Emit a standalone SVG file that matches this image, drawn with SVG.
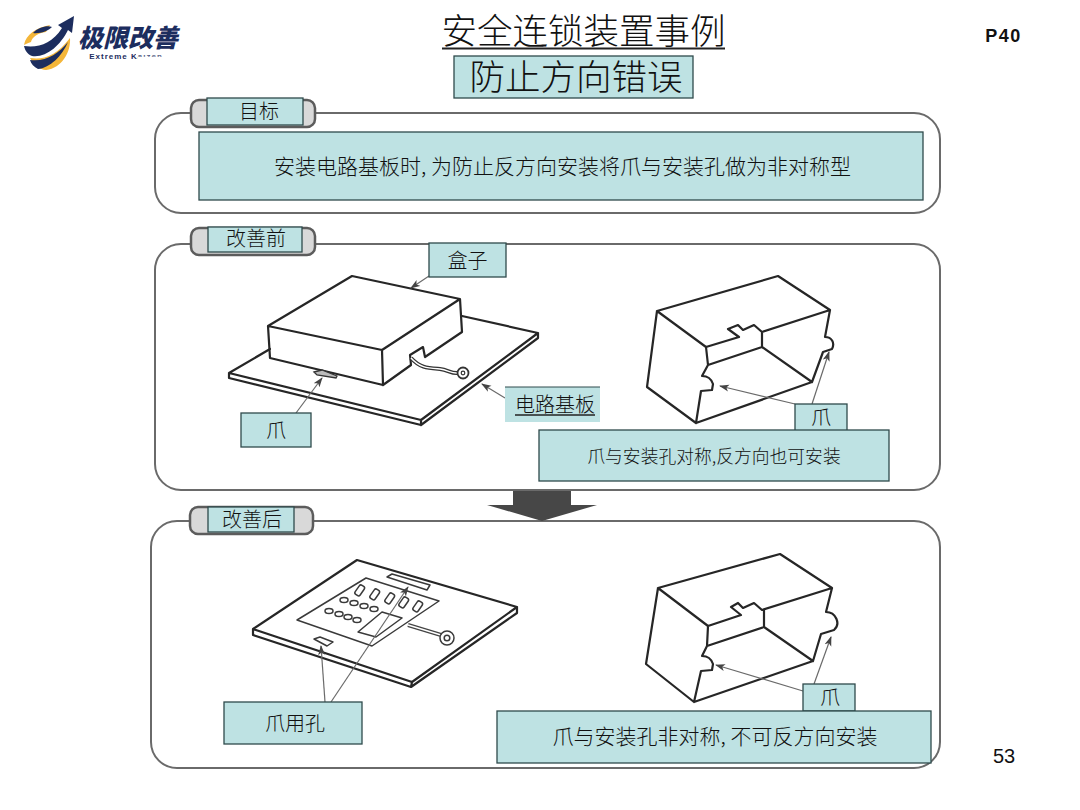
<svg xmlns="http://www.w3.org/2000/svg" width="1080" height="810" viewBox="0 0 1080 810">
<style>
text{font-family:"Noto Sans CJK SC","Liberation Sans",sans-serif;fill:#111;text-anchor:middle}
.panel{fill:#fff;stroke:#6a6a6a;stroke-width:2}
.pill{fill:#d9d9d9;stroke:#5c5c5c;stroke-width:2.500}
.teal{fill:#bee2e3;stroke:#2f4a4c;stroke-width:1.300}
.line{fill:none;stroke:#262626;stroke-width:2.200;stroke-linejoin:round;stroke-linecap:round}
.thin{fill:none;stroke:#3a3a3a;stroke-width:1.500;stroke-linejoin:round}
.lead{fill:none;stroke:#6a6a6a;stroke-width:1.200;marker-end:url(#arr)}
.title{font-size:35.500px;font-weight:300}
.t20{font-size:20px;font-weight:300}
</style>
<defs>
<marker id="arr" markerWidth="10" markerHeight="8" refX="9" refY="4" orient="auto" markerUnits="userSpaceOnUse"><path d="M0,0.5L10,4L0,7.5L2.5,4Z" fill="#444"/></marker>
</defs>
<rect width="1080" height="810" fill="#fff"/>

<g id="logo">
<path d="M24,45C26,34 36,28 50,25L46,32C38,33 32,37 31,42C28,43 26,44 24,45Z" fill="#f4b63a"/>
<path d="M30,58C44,60 56,56 70,38C71,52 62,68 46,70C40,70 34,65 30,58Z" fill="#f4b63a"/>
<path d="M24,46C38,48 52,44 62,28L58,25L74,16L72,33L68,30C60,46 46,58 32,56C27,54 25,50 24,46Z" fill="#1c2d5e"/>
<path d="M33,33C38,27 48,25 52,27C48,31 40,34 33,33Z" fill="#1c2d5e"/>
<path d="M30,60C46,62 58,54 68,42C62,56 50,68 38,69C34,67 31,64 30,60Z" fill="#1c2d5e"/>
<text x="128" y="47" style="font-size:25px;font-weight:900;fill:#1c2d5e;font-style:italic">极限改善</text>
<text x="126" y="59" style="font-size:8px;font-weight:700;fill:#1c2d5e;font-family:'Liberation Sans',sans-serif;letter-spacing:1px">Extreme Kaizen</text>
<rect x="136" y="52" width="36" height="3.200" fill="#fff"/>
<rect x="138" y="56.600" width="36" height="4" fill="#fff"/>
</g>

<g id="header">
<text class="title" x="583.500" y="44">安全连锁装置事例</text>
<line x1="442" y1="48.500" x2="725" y2="48.500" stroke="#222" stroke-width="2"/>
<rect class="teal" x="454" y="56" width="239" height="42"/>
<text class="title" x="576" y="90">防止方向错误</text>
<text x="1003.500" y="42" style="font-family:'Liberation Sans',sans-serif;font-size:18px;font-weight:700;letter-spacing:1.500px">P40</text>
<text x="1004" y="763" style="font-family:'Liberation Sans',sans-serif;font-size:20px">53</text>
</g>

<g id="panel-goal">
<rect class="panel" x="155" y="113" width="785" height="100" rx="26"/>
<rect class="pill" x="191" y="100" width="124" height="27" rx="8"/>
<rect class="teal" x="207" y="98" width="96" height="27"/>
<text class="t20" x="259" y="119">目标</text>
<rect class="teal" x="199" y="132" width="724" height="68"/>
<text class="t20" x="562.500" y="174" style="font-size:21px">安装电路基板时, 为防止反方向安装将爪与安装孔做为非对称型</text>
</g>

<g id="panel-before">
<rect class="panel" x="155" y="244" width="785" height="246" rx="26"/>
<rect class="pill" x="191" y="228" width="124" height="27" rx="8"/>
<rect class="teal" x="208" y="227" width="94" height="25"/>
<text class="t20" x="256" y="246">改善前</text>
</g>

<g id="panel-after">
<rect class="panel" x="151" y="521" width="789" height="247" rx="26"/>
<rect class="pill" x="190" y="507" width="123" height="27" rx="8"/>
<rect class="teal" x="208" y="507" width="86" height="25"/>
<text class="t20" x="252" y="527">改善后</text>
</g>

<g id="arrow-down">
<path d="M513,491H571V505H597L542,521L487,505H513Z" fill="#474747"/>
</g>

<g id="board-before">
<path class="line" d="M270,349L229,373L421,420L538,333L462,316M229,373V378L421,425V420M421,425L538,338V333"/>
</g>
<g id="box-before">
<path class="line" d="M268,326L352,276L460,299L382,350ZM268,326L270,358L383,385L382,350M460,299L462,332L425,357L423,347L410,355L411,365L383,385"/>
<path d="M411,358C420,368 428,368 440,369C448,370 452,374 458,373" fill="none" stroke="#333" stroke-width="4"/>
<path d="M411,358C420,368 428,368 440,369C448,370 452,374 458,373" fill="none" stroke="#fff" stroke-width="1.500"/>
<circle cx="463" cy="373" r="5.500" fill="#fff" stroke="#333" stroke-width="1.800"/>
<circle cx="463" cy="373" r="1.800" fill="#fff" stroke="#333" stroke-width="1.200"/>
<path d="M314,372L322,370L337,376L336,378L317,375Z" fill="#bbb" stroke="#333" stroke-width="1.300"/>
</g>

<g id="case-before">
<path class="line" d="M657,311L778,276L830,310L762,332L754,325L743,330L738,325L728,329L739,337L706,347ZM657,311L647,387L696,423L701,391L712,390L713,384C711,378 708,376 702,376L708,365L706,347M696,423L812,382L823,352L832,349C835,343 832,337 825,337L830,310M762,332V347L812,382M762,347L708,365"/>
</g>

<g id="board-after">
<path class="line" d="M253,629L357,560L517,607L412,682ZM253,629V635L411,687L517,613V607M412,682L411,687"/>
<path class="thin" d="M297,620L366,578L439,601L372,646ZM358,632L382,612L402,618L376,637Z"/>
<path d="M408,625L441,635" fill="none" stroke="#444" stroke-width="4"/>
<path d="M408,625L441,635" fill="none" stroke="#fff" stroke-width="1.500"/>
<path class="thin" d="M387,577L392,574L430,585L427,590Z M314,639L320,637L333,642L327,646Z"/>
<g class="thin">
<rect x="357" y="585" width="6" height="11" rx="2" transform="rotate(35 360 590)"/>
<rect x="372" y="589" width="6" height="11" rx="2" transform="rotate(35 375 594)"/>
<rect x="387" y="593" width="6" height="11" rx="2" transform="rotate(35 390 598)"/>
<rect x="401" y="597" width="6" height="11" rx="2" transform="rotate(35 404 602)"/>
<rect x="415" y="601" width="6" height="11" rx="2" transform="rotate(35 418 606)"/>
<ellipse cx="344" cy="600" rx="4" ry="2.500"/><ellipse cx="354" cy="603" rx="4" ry="2.500"/><ellipse cx="364" cy="606" rx="4" ry="2.500"/><ellipse cx="374" cy="609" rx="4" ry="2.500"/>
<ellipse cx="329" cy="611" rx="4" ry="2.500"/><ellipse cx="339" cy="614" rx="4" ry="2.500"/><ellipse cx="348" cy="617" rx="4" ry="2.500"/><ellipse cx="357" cy="620" rx="4" ry="2.500"/>
<circle cx="447" cy="638" r="7" fill="#fff"/><circle cx="447" cy="638" r="2.800"/>
</g>
</g>

<g id="case-after">
<path class="line" d="M658,588L780,554L832,588L762,610L754,603L743,608L738,603L731,607L741,615L708,626ZM658,588L646,664L694,702L701,671L712,670L713,664C711,658 708,656 702,656L707,646L708,626M694,702L813,661L821,634L834,630C841,624 836,612 826,612L832,588M764,610V627L813,661M764,627L707,646"/>
</g>

<g id="connectors">
<path class="lead" d="M429,276L411,288"/>
<path class="lead" d="M296,413L322,378"/>
<path class="lead" d="M505,398L482,384"/>
<path class="lead" d="M795,404L720,386"/>
<path class="lead" d="M812,404L829,352"/>
<path class="lead" d="M325,702L321,646"/>
<path class="lead" d="M331,702L408,587"/>
<path class="lead" d="M803,691L716,665"/>
<path class="lead" d="M814,684L831,637"/>
</g>

<g id="label-box"><rect class="teal" x="429" y="243" width="77" height="34"/><text class="t20" x="467.500" y="268">盒子</text></g>
<g id="label-claw-1"><rect class="teal" x="241" y="413" width="70" height="34"/><text class="t20" x="276" y="438">爪</text></g>
<g id="label-board"><rect x="505" y="387" width="95" height="35" fill="#bee2e3"/><line x1="505" y1="387" x2="600" y2="387" stroke="#2f4a4c" stroke-width="1"/><text class="t20" x="555" y="412">电路基板</text><line x1="515" y1="415" x2="595" y2="415" stroke="#222" stroke-width="1.500"/></g>
<g id="label-claw-2"><rect class="teal" x="795" y="404" width="52" height="27"/><text class="t20" x="821" y="425">爪</text></g>
<g id="label-before"><rect class="teal" x="539" y="430" width="350" height="51"/><text class="t20" x="714" y="463" style="font-size:17.800px">爪与安装孔对称,反方向也可安装</text></g>
<g id="label-hole"><rect class="teal" x="224" y="702" width="138" height="42"/><text class="t20" x="295" y="731">爪用孔</text></g>
<g id="label-claw-3"><rect class="teal" x="803" y="684" width="52" height="27"/><text class="t20" x="830" y="705">爪</text></g>
<g id="label-after"><rect class="teal" x="497" y="711" width="434" height="52"/><text class="t20" x="715" y="744" style="font-size:21px">爪与安装孔非对称, 不可反方向安装</text></g>
</svg>
